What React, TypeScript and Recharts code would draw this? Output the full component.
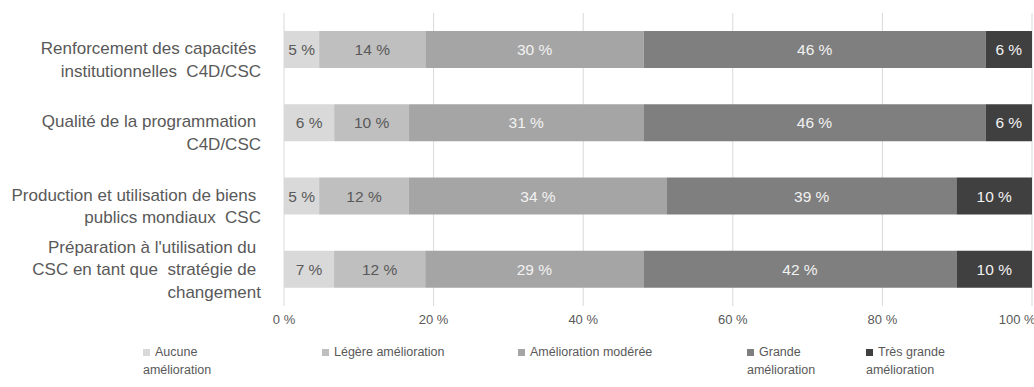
import { BarChart, Bar, XAxis, YAxis, CartesianGrid, Legend, LabelList } from "recharts";

const categories = [
  "Renforcement des capacités \ninstitutionnelles  C4D/CSC",
  "Qualité de la programmation \nC4D/CSC",
  "Production et utilisation de biens \npublics mondiaux  CSC",
  "Préparation à l'utilisation du \nCSC en tant que  stratégie de \nchangement",
];

// segment widths (share of each row)
const aucune = [4.7, 6.7, 4.7, 6.7];
const legere = [14.2, 10.0, 12.0, 12.2];
const moderee = [29.2, 31.3, 34.5, 29.2];
const grande = [45.7, 45.7, 38.7, 41.9];
const tresGrande = [6.2, 6.2, 10.1, 10.1];

// printed labels
const aucuneLbl = [5, 6, 5, 7];
const legereLbl = [14, 10, 12, 12];
const modereeLbl = [30, 31, 34, 29];
const grandeLbl = [46, 46, 39, 42];
const tresGrandeLbl = [6, 6, 10, 10];

const xTicks = [0, 0.2, 0.4, 0.6, 0.8, 1];

const series = [
  { key: "aucune", name: "Aucune amélioration", lines: ["Aucune", "amélioration"], color: "#d9d9d9", text: "#595959", width: 179 },
  { key: "legere", name: "Légère amélioration", lines: ["Légère amélioration"], color: "#bfbfbf", text: "#595959", width: 196 },
  { key: "moderee", name: "Amélioration modérée", lines: ["Amélioration modérée"], color: "#a5a5a5", text: "#f2f2f2", width: 229 },
  { key: "grande", name: "Grande amélioration", lines: ["Grande", "amélioration"], color: "#7f7f7f", text: "#f2f2f2", width: 119 },
  { key: "tresGrande", name: "Très grande amélioration", lines: ["Très grande", "amélioration"], color: "#404040", text: "#f2f2f2", width: 150 },
];

const data = categories.map((name, i) => ({
  name,
  aucune: aucune[i],
  legere: legere[i],
  moderee: moderee[i],
  grande: grande[i],
  tresGrande: tresGrande[i],
  aucuneLbl: aucuneLbl[i],
  legereLbl: legereLbl[i],
  modereeLbl: modereeLbl[i],
  grandeLbl: grandeLbl[i],
  tresGrandeLbl: tresGrandeLbl[i],
}));

const FONT = "'Liberation Sans', Arial, sans-serif";

function CategoryTick(props: any) {
  const { x, y, payload } = props;
  const lines = String(payload.value).split("\n");
  const lh = 22.5;
  const start = lines.length > 2 ? -lh : -1.5;
  const tx = x - 15;
  return (
    <text x={tx} y={y} textAnchor="end" fill="#595959" fontSize={17} fontFamily={FONT} style={{ whiteSpace: "pre" }}>
      {lines.map((l, i) => (
        <tspan key={i} x={tx} y={y + start + i * lh} dy="0.35em">
          {l}
        </tspan>
      ))}
    </text>
  );
}

function ChartLegend() {
  return (
    <div style={{ display: "flex", paddingLeft: 143, paddingTop: 6, fontFamily: FONT, fontSize: 12.5, color: "#595959", lineHeight: "18px" }}>
      {series.map((s) => (
        <div key={s.key} style={{ width: s.width, flex: "none" }}>
          <div style={{ display: "flex", alignItems: "center", whiteSpace: "nowrap" }}>
            <span style={{ display: "inline-block", width: 7, height: 7, background: s.color, marginRight: 5 }} />
            {s.lines[0]}
          </div>
          {s.lines.slice(1).map((l) => (
            <div key={l} style={{ whiteSpace: "nowrap" }}>{l}</div>
          ))}
        </div>
      ))}
    </div>
  );
}

export default function App() {
  return (
    <div style={{ position: "absolute", left: 0, top: 0, width: 1034, height: 387, background: "#fff" }}>
      <BarChart
        width={1034}
        height={387}
        data={data}
        layout="vertical"
        stackOffset="expand"
        barSize={37}
        margin={{ top: 13, right: 2, left: 0, bottom: 0 }}
      >
        <CartesianGrid horizontal={false} stroke="#d9d9d9" />
        <XAxis
          type="number"
          domain={[0, 1]}
          ticks={xTicks}
          tickFormatter={(v: number) => `${Math.round(v * 100)} %`}
          axisLine={false}
          tickLine={false}
          tickMargin={3}
          height={31}
          tick={{ fill: "#595959", fontSize: 13, fontFamily: FONT }}
        />
        <YAxis type="category" dataKey="name" width={284} axisLine={false} tickLine={false} tick={<CategoryTick />} />
        <Legend
          verticalAlign="bottom"
          wrapperStyle={{ left: 0, width: 1034, height: 50 }}
          content={() => <ChartLegend />}
        />
        {series.map((s) => (
          <Bar key={s.key} dataKey={s.key} name={s.name} stackId="a" fill={s.color} isAnimationActive={false}>
            <LabelList
              dataKey={`${s.key}Lbl`}
              position="center"
              formatter={(v: any) => `${v} %`}
              fill={s.text}
              fontSize={15.5}
              fontFamily={FONT}
            />
          </Bar>
        ))}
      </BarChart>
    </div>
  );
}
